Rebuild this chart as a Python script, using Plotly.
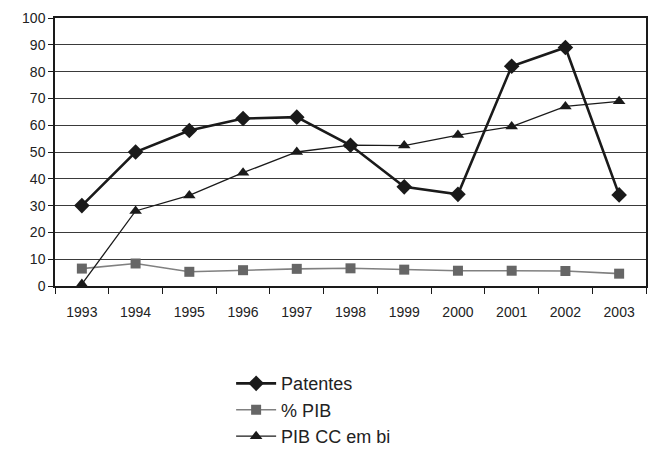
import plotly.graph_objects as go

anos = ["1993", "1994", "1995", "1996", "1997", "1998", "1999", "2000", "2001", "2002", "2003"]
patentes = [30, 50, 58, 62.5, 63, 52.5, 37, 34.2, 82, 89, 34]
pct_pib = [6.5, 8.4, 5.3, 5.9, 6.4, 6.6, 6.1, 5.7, 5.7, 5.6, 4.6]
pib_cc = [0.7, 28, 33.8, 42.3, 50, 52.6, 52.4, 56.3, 59.5, 67, 68.9]
y_ticks = list(range(0, 101, 10))

fig = go.Figure()
fig.add_trace(go.Scatter(
    x=anos, y=patentes, mode="lines+markers", name="Patentes",
    line={"color": "#1a1a1a", "width": 2.6},
    marker={"symbol": "diamond", "size": 12, "color": "#1a1a1a"},
))
fig.add_trace(go.Scatter(
    x=anos, y=pct_pib, mode="lines+markers", name="% PIB",
    line={"color": "#808080", "width": 1.6},
    marker={"symbol": "square", "size": 10, "color": "#666666"},
))
fig.add_trace(go.Scatter(
    x=anos, y=pib_cc, mode="lines+markers", name="PIB CC em bi",
    line={"color": "#1a1a1a", "width": 1.3},
    marker={"symbol": "triangle-up", "size": 11, "color": "#1a1a1a"},
))

fig.update_layout(
    width=653,
    height=460,
    margin={"l": 55, "r": 7, "t": 18, "b": 173},
    paper_bgcolor="white",
    plot_bgcolor="white",
    font={"family": "Liberation Sans, Arial, sans-serif", "color": "#222222", "size": 14},
    showlegend=True,
    # legenda ancorada por baixo, dentro da figura, para não empurrar a margem
    legend={
        "x": 0.298, "y": -0.625, "xanchor": "left", "yanchor": "bottom",
        "font": {"size": 18, "color": "#222222"},
        "tracegroupgap": 0, "itemwidth": 40,
    },
)
fig.update_xaxes(
    type="category",
    range=[-0.5, len(anos) - 0.5],
    automargin=False,
    showline=True, linecolor="#1a1a1a", linewidth=1.5, mirror=True,
    ticks="outside", tickson="boundaries", ticklen=6, tickcolor="#1a1a1a",
    ticklabelstandoff=12,
    showgrid=False,
    tickfont={"size": 14},
)
fig.update_yaxes(
    range=[0, 100],
    tickvals=y_ticks,
    automargin=False,
    showline=True, linecolor="#1a1a1a", linewidth=1.5, mirror=True,
    ticks="outside", ticklen=5, tickcolor="#1a1a1a",
    showgrid=True, gridcolor="#3a3a3a", gridwidth=1,
    zeroline=False,
    tickfont={"size": 14},
)

# tira a margem padrão do body para a figura ocupar a janela inteira
fig.write_html(
    "out.html",
    config={"displayModeBar": False},
    post_script="document.body.style.margin='0px'; document.body.style.overflow='hidden';",
)
